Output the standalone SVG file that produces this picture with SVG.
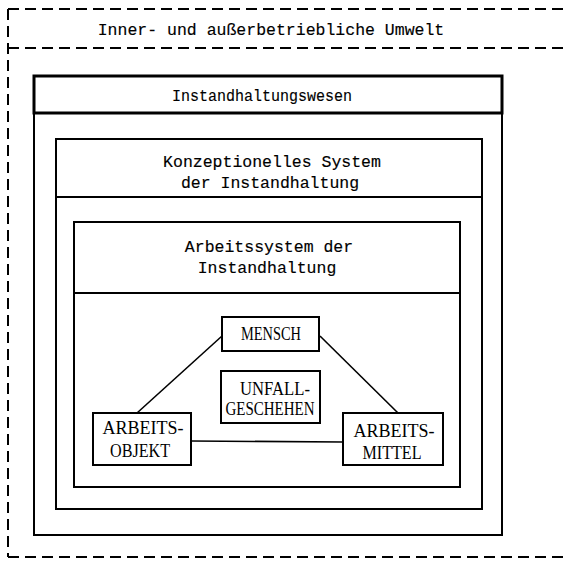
<svg xmlns="http://www.w3.org/2000/svg" width="569" height="562" viewBox="0 0 569 562">
  <style>
    .dash { fill: none; stroke: #000; stroke-width: 2; stroke-dasharray: 11 6; }
    .frame { fill: none; stroke: #000; stroke-width: 2; }
    .heavy { fill: none; stroke: #000; stroke-width: 3; }
    .node { fill: #fff; stroke: #000; stroke-width: 2; }
    .conn { stroke: #000; stroke-width: 1.6; fill: none; }
    .tw { font-family: "Liberation Mono", "DejaVu Sans Mono", monospace; font-size: 16.5px; fill: #000; stroke: #000; stroke-width: 0.15; text-anchor: middle; }
    .cap { font-family: "Liberation Serif", "DejaVu Serif", serif; font-size: 18px; fill: #000; text-anchor: middle; }
  </style>

  <rect width="569" height="562" fill="#fff"/>

  <!-- environment: dashed frame, open at the right edge -->
  <g id="umwelt">
    <path class="dash" d="M8 9 H569 M8 48 H569 M8 557 H569 M8 9 V557"/>
    <text class="tw" x="271" y="35">Inner- und außerbetriebliche Umwelt</text>
  </g>

  <!-- maintenance organisation -->
  <g id="instandhaltungswesen">
    <rect class="frame" x="34" y="76" width="468" height="459"/>
    <path class="heavy" d="M34 76 H502 V113 H34 Z"/>
    <text class="tw" x="262" y="101" textLength="180" lengthAdjust="spacingAndGlyphs">Instandhaltungswesen</text>
  </g>

  <!-- conceptual system -->
  <g id="konzeptionelles-system">
    <rect class="frame" x="56" y="139" width="426" height="370"/>
    <path class="frame" d="M56 197 H482"/>
    <text class="tw" x="272" y="167">Konzeptionelles System</text>
    <text class="tw" x="270" y="188">der Instandhaltung</text>
  </g>

  <!-- work system -->
  <g id="arbeitssystem">
    <rect class="frame" x="74" y="222" width="386" height="265"/>
    <path class="frame" d="M74 293 H460"/>
    <text class="tw" x="269" y="252">Arbeitssystem der</text>
    <text class="tw" x="267" y="273">Instandhaltung</text>
  </g>

  <!-- connectors between the work-system elements -->
  <g id="connectors">
    <line class="conn" x1="222" y1="336" x2="137" y2="413"/>
    <line class="conn" x1="320" y1="336" x2="398" y2="413"/>
    <line class="conn" x1="191" y1="441" x2="343" y2="442"/>
  </g>

  <g id="mensch">
    <rect class="node" x="222" y="317" width="97" height="34"/>
    <text class="cap" x="271" y="340" textLength="60" lengthAdjust="spacingAndGlyphs">MENSCH</text>
  </g>

  <g id="unfallgeschehen">
    <rect class="node" x="221" y="371" width="99" height="52"/>
    <text class="cap" x="275" y="395" textLength="70" lengthAdjust="spacingAndGlyphs">UNFALL-</text>
    <text class="cap" x="270" y="415" textLength="89" lengthAdjust="spacingAndGlyphs">GESCHEHEN</text>
  </g>

  <g id="arbeitsobjekt">
    <rect class="node" x="93" y="413" width="98" height="52"/>
    <text class="cap" x="143" y="434" textLength="81" lengthAdjust="spacingAndGlyphs">ARBEITS-</text>
    <text class="cap" x="140" y="457" textLength="60" lengthAdjust="spacingAndGlyphs">OBJEKT</text>
  </g>

  <g id="arbeitsmittel">
    <rect class="node" x="343" y="413" width="100" height="52"/>
    <text class="cap" x="394" y="437" textLength="81" lengthAdjust="spacingAndGlyphs">ARBEITS-</text>
    <text class="cap" x="392" y="459" textLength="59" lengthAdjust="spacingAndGlyphs">MITTEL</text>
  </g>
</svg>
